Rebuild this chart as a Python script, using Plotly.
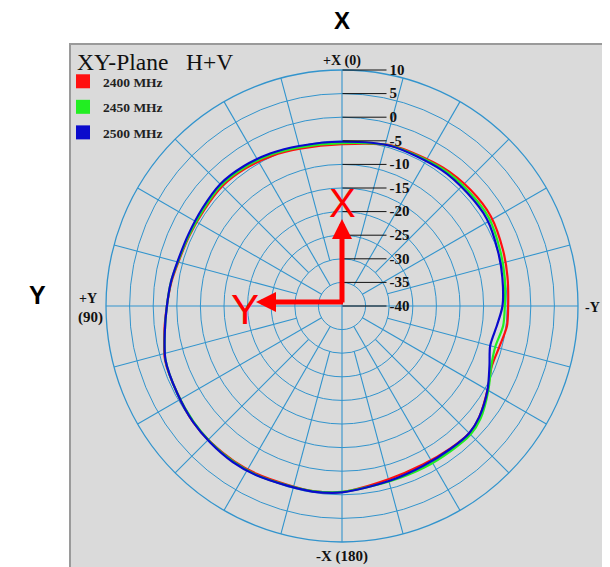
import plotly.graph_objects as go

# ---- data ----
angles_deg = [0, 15, 25, 35, 45, 55, 65, 75, 82, 90, 98, 107, 118, 128, 136, 145, 153, 163, 171,
              180, 195, 207, 217, 225, 231, 240, 248, 255, 263, 270, 280, 289, 301, 312, 324, 343, 360]
gain_2500 = [-5.2, -4.9, -4.3, -3.8, -3.5, -3.9, -4.1, -3.9, -3.4, -2.9, -2.1, -0.9, -0.5, 0.0, 0.2, 0.35, 0.2, -0.2, -0.2,
             -0.5, -1.6, -2.0, -2.0, -1.9, -2.6, -4.4, -6.3, -7.5, -6.9, -6.0, -5.5, -5.0, -4.2, -4.25, -4.3, -4.55, -5.2]
gain_2450 = [-5.5, -5.2, -4.6, -4.1, -3.8, -4.2, -4.3, -4.0, -3.4, -2.9, -2.1, -0.9, -0.5, -0.1, 0.1, 0.2, 0.1, -0.3, -0.3,
             -0.6, -1.5, -1.6, -1.6, -1.5, -2.2, -4.2, -5.9, -6.4, -5.6, -5.5, -5.0, -4.5, -3.7, -3.8, -4.0, -4.5, -5.5]
gain_2400 = [-5.7, -5.5, -4.9, -4.4, -4.1, -4.4, -4.4, -4.1, -3.5, -2.9, -2.0, -0.8, -0.5, 0.0, 0.1, 0.05, -0.1, -0.4, -0.3,
             -0.6, -2.0, -2.3, -2.1, -1.9, -2.6, -4.4, -5.8, -5.6, -4.8, -4.8, -4.4, -3.9, -3.2, -3.3, -3.7, -4.4, -5.7]
series_names = ["2400 MHz", "2450 MHz", "2500 MHz"]
series_colors = ["#ff1010", "#22ee22", "#0a0acc"]
radial_ticks = [10, 5, 0, -5, -10, -15, -20, -25, -30, -35, -40]
r_min, r_max = -40, 10
# grid spokes: main axes reach the centre, 30-degree spokes start at -35, the rest at -30
spokes_axes = [0, 90, 180, 270]
spokes_30 = [30, 60, 120, 150, 210, 240, 300, 330]
spokes_15 = [15, 45, 75, 105, 135, 165, 195, 225, 255, 285, 315, 345]

# page has an 8px body margin: figure is placed at (8, 8)
OFF = 8
W, H = 610 - OFF, 567 - OFF
def px(x):
    return (x - OFF) / W
def py(y):
    return 1 - (y - OFF) / H

GRID = "rgb(50,148,205)"
SERIF = "Liberation Serif"
NB = "\u00a0"

fig = go.Figure()

# grid spokes
sp_r, sp_t = [], []
for group, start in ((spokes_axes, r_min), (spokes_30, -35), (spokes_15, -30)):
    for a in group:
        sp_r += [start, r_max, None]
        sp_t += [a, a, None]
fig.add_trace(go.Scatterpolar(r=sp_r, theta=sp_t, mode="lines", line=dict(color=GRID, width=1.1),
                              showlegend=False, hoverinfo="skip"))

for name, col, vals in zip(series_names, series_colors, [gain_2400, gain_2450, gain_2500]):
    fig.add_trace(go.Scatterpolar(
        r=vals, theta=angles_deg, mode="lines", name=name,
        line=dict(color=col, width=2.2, shape="spline", smoothing=0.8),
        showlegend=False, hoverinfo="skip"))
for i, (name, col) in enumerate(zip(series_names, series_colors)):
    fig.add_trace(go.Scatterpolar(
        r=[None], theta=[None], mode="markers", name=name, legendgroup=str(i),
        marker=dict(symbol="square", size=14, color=col), showlegend=True))

fig.update_layout(
    width=W, height=H,
    margin=dict(l=0, r=0, t=0, b=0),
    paper_bgcolor="white",
    showlegend=True,
    legend=dict(x=px(63), y=py(66), xanchor="left", yanchor="top",
                bgcolor="rgba(0,0,0,0)", tracegroupgap=5, itemsizing="trace",
                font=dict(family=SERIF, size=13.5, color="#222", weight="bold")),
    polar=dict(
        domain=dict(x=[px(106), px(578)], y=[py(542), py(70)]),
        bgcolor="rgba(0,0,0,0)",
        angularaxis=dict(rotation=90, direction="counterclockwise", dtick=15,
                         showticklabels=False, ticks="", showgrid=False,
                         linecolor=GRID, linewidth=1.3, showline=True),
        radialaxis=dict(range=[r_min, r_max], tickvals=radial_ticks, ticktext=[str(t) for t in radial_ticks],
                        angle=90, side="clockwise", tickangle=90,
                        ticks="outside", ticklen=44, tickcolor="#111", tickwidth=1,
                        gridcolor=GRID, gridwidth=1.2, showline=False,
                        tickfont=dict(family=SERIF, size=15, color="#111", weight="bold")),
    ),
    shapes=[dict(type="rect", xref="paper", yref="paper", x0=px(70), x1=px(607), y0=-0.05, y1=py(44),
                 fillcolor="#dadada", line=dict(color="#9a9a9a", width=2), layer="below")],
)

def label(text, x, y, size, family=SERIF, color="#111", xanchor="center"):
    return dict(text=text, x=px(x), y=py(y), xanchor=xanchor, yanchor="middle", showarrow=False,
                font=dict(family=family, size=size, color=color))

ann = [
    label("<b>X</b>", 342, 20, 24, family="Liberation Sans", color="black"),
    label("<b>Y</b>", 37, 295, 25, family="Liberation Sans", color="black"),
    label("XY-Plane" + NB * 3 + "H+V", 75, 62, 23.5, xanchor="left"),
    label("<b>+X (0)</b>", 342, 61, 14),
    label("<b>-X (180)</b>", 342, 556, 15),
    label("<b>+Y</b>", 88, 298, 14),
    label("<b>(90)</b>", 91, 317, 15),
    label("<b>-Y</b>", 592, 307, 14),
    label("X", 342, 203, 40, family="Liberation Sans", color="red"),
    label("Y", 245, 309, 42, family="Liberation Sans", color="red"),
    # red axis arrows
    dict(text="", x=px(342), y=py(219), ax=0, ay=85, xref="paper", yref="paper", showarrow=True,
         arrowhead=2, arrowsize=0.8, arrowwidth=5, arrowcolor="red"),
    dict(text="", x=px(256), y=py(302), ax=88.5, ay=0, xref="paper", yref="paper", showarrow=True,
         arrowhead=2, arrowsize=0.8, arrowwidth=5, arrowcolor="red"),
]
fig.update_layout(annotations=ann)

fig.write_html("out.html")
